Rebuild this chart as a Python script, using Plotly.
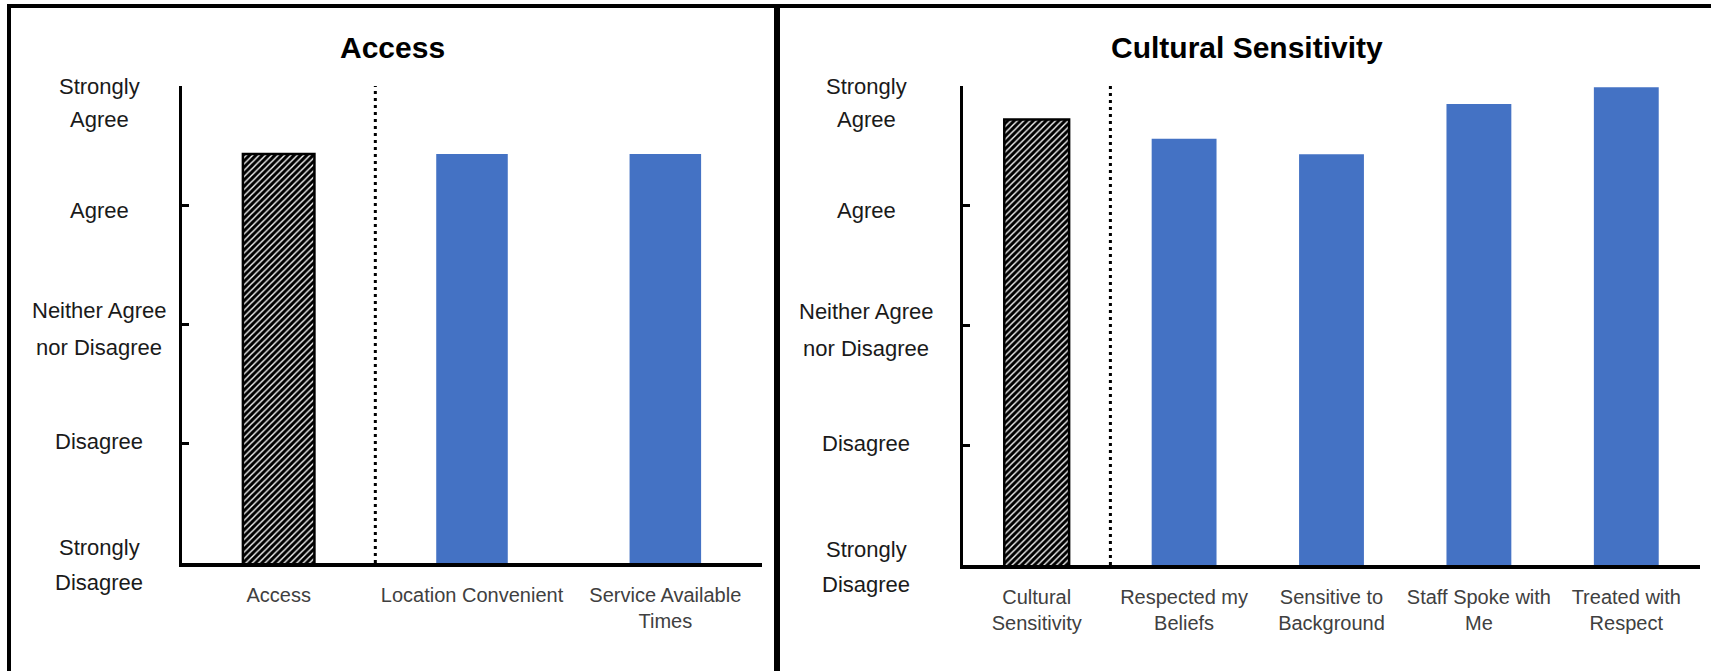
import plotly.graph_objects as go

# ---------------- data ----------------
access_cats = ["Access", "Location Convenient", "Service Available<br>Times"]
access_vals = [4.43, 4.43, 4.43]

cultural_cats = ["Cultural<br>Sensitivity", "Respected my<br>Beliefs", "Sensitive to<br>Background",
                 "Staff Spoke with<br>Me", "Treated with<br>Respect"]
cultural_vals = [4.72, 4.56, 4.43, 4.85, 4.99]

scale_vals = [1, 2, 3, 4, 5]
scale_labels = [["Strongly", "Disagree"], ["Disagree"], ["Neither Agree", "nor Disagree"],
                ["Agree"], ["Strongly", "Agree"]]

panel_titles = ["Access", "Cultural Sensitivity"]

# ---------------- styling ----------------
W, H = 1711, 671
FONT = "Liberation Sans, Arial, Helvetica, sans-serif"
BLUE = "#4472C4"

def px(x):
    return x / W

def py(y):
    return 1 - y / H

fig = go.Figure()

def add_panel(cats, vals, xa, ya, width):
    n = len(cats)
    fig.add_trace(go.Bar(
        x=list(range(1, n)), y=vals[1:], width=width,
        marker=dict(color=BLUE, line=dict(width=0)),
        xaxis=xa, yaxis=ya, showlegend=False, hoverinfo="skip"))
    fig.add_trace(go.Bar(
        x=[0], y=vals[:1], width=width,
        marker=dict(color="black", line=dict(color="black", width=2.5),
                    pattern=dict(shape="/", fgcolor="white", bgcolor="black",
                                 size=4.5, solidity=0.3, fillmode="replace")),
        xaxis=xa, yaxis=ya, showlegend=False, hoverinfo="skip"))

add_panel(access_cats, access_vals, "x", "y", 0.37)
add_panel(cultural_cats, cultural_vals, "x2", "y2", 0.44)

xcommon = dict(showline=True, linecolor="black", linewidth=3.5, ticks="",
               showgrid=False, zeroline=False, tickmode="array",
               tickfont=dict(family=FONT, size=20, color="#404040"),
               ticklabelstandoff=11, fixedrange=True)
ycommon = dict(showline=True, linecolor="black", linewidth=3, ticks="inside",
               ticklen=7, tickwidth=3, tickcolor="black", range=[1, 5],
               tickvals=scale_vals, showticklabels=False, showgrid=False,
               zeroline=False, fixedrange=True)

fig.update_layout(
    width=W, height=H, margin=dict(l=0, r=0, t=0, b=0),
    paper_bgcolor="white", plot_bgcolor="white", barmode="overlay",
    xaxis=dict(domain=[px(182), px(762)], range=[-0.5, 2.5],
               tickvals=list(range(len(access_cats))), ticktext=access_cats, anchor="y", **xcommon),
    yaxis=dict(domain=[py(563), py(86)], anchor="x", **ycommon),
    xaxis2=dict(domain=[px(963), px(1700)], range=[-0.5, 4.5],
                tickvals=list(range(len(cultural_cats))), ticktext=cultural_cats, anchor="y2", **xcommon),
    yaxis2=dict(domain=[py(565), py(86)], anchor="x2", **ycommon),
)

# dotted separators between summary bar and items
for xr, yr in (("x", "y"), ("x2", "y2")):
    fig.add_shape(type="line", xref=xr, yref=yr, x0=0.5, x1=0.5, y0=1, y1=5,
                  line=dict(color="black", width=3, dash="3px,4px"))

# panel borders
fig.add_shape(type="line", xref="paper", yref="paper", x0=px(9), x1=px(9), y0=-0.02, y1=py(6),
              line=dict(color="black", width=4))
fig.add_shape(type="line", xref="paper", yref="paper", x0=px(7), x1=1.01, y0=py(6), y1=py(6),
              line=dict(color="black", width=4))
fig.add_shape(type="line", xref="paper", yref="paper", x0=px(777), x1=px(777), y0=-0.02, y1=py(6),
              line=dict(color="black", width=6))

# titles
for title, cx in zip(panel_titles, (392, 1247)):
    fig.add_annotation(text="<b>%s</b>" % title, xref="paper", yref="paper", x=px(cx), y=py(48),
                       xanchor="center", yanchor="middle", showarrow=False,
                       font=dict(family=FONT, size=30, color="black"))

# y-axis category labels (centred text, placed on the axis scale)
line_shifts = {
    1: [16, -19],
    2: [2],
    3: [14, -23],
    4: [-5],
    5: [-1, -34],
}
for yr, cx in (("y", 99), ("y2", 866)):
    for v, lines in zip(scale_vals, scale_labels):
        for line, sh in zip(lines, line_shifts[v]):
            fig.add_annotation(text=line, xref="paper", yref=yr, x=px(cx), y=v, yshift=sh,
                               xanchor="center", yanchor="middle", showarrow=False,
                               font=dict(family=FONT, size=22, color="#1a1a1a"))

fig.write_html("out.html", config={"displayModeBar": False},
               post_script="document.body.style.margin='0';document.body.style.overflow='hidden';")
